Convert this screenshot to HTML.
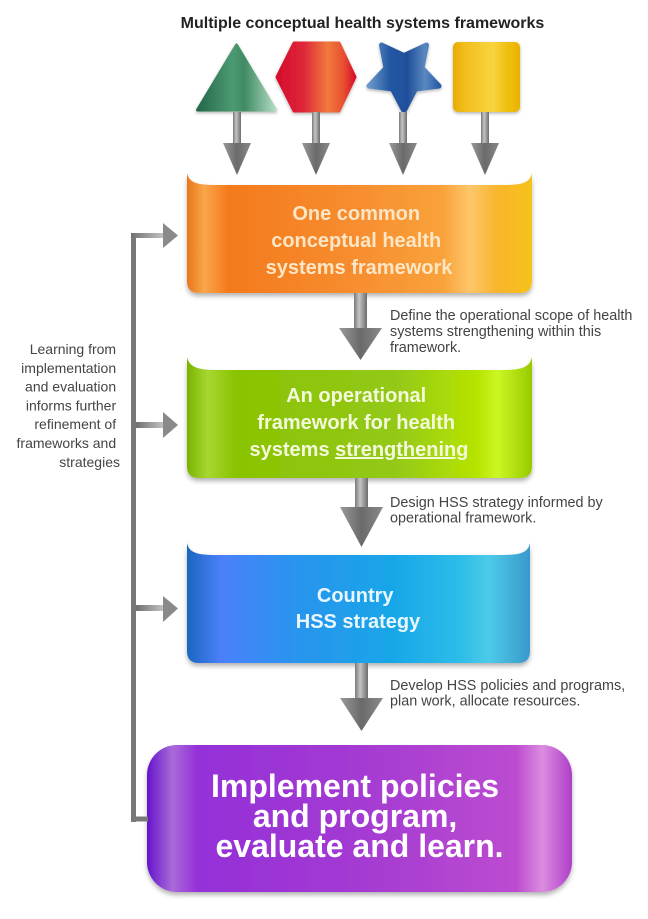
<!DOCTYPE html>
<html><head><meta charset="utf-8"><style>
html,body{margin:0;padding:0;background:#fff;}
svg{display:block;}
text{font-family:"Liberation Sans",sans-serif;}
</style></head><body>
<svg width="648" height="919" viewBox="0 0 648 919" xmlns="http://www.w3.org/2000/svg">
<defs>
<filter id="sh" x="-10%" y="-10%" width="120%" height="130%"><feDropShadow dx="0" dy="3" stdDeviation="2.5" flood-color="#000" flood-opacity="0.3"/></filter>
<filter id="sh2" x="-20%" y="-20%" width="140%" height="140%"><feDropShadow dx="0" dy="1.5" stdDeviation="1.5" flood-color="#000" flood-opacity="0.3"/></filter>
<linearGradient id="gOr" x1="0" x2="1" y1="0" y2="0">
<stop offset="0" stop-color="#e9761a"/><stop offset="0.05" stop-color="#f9a64a"/><stop offset="0.12" stop-color="#f47a1c"/>
<stop offset="0.5" stop-color="#f78e30"/><stop offset="0.74" stop-color="#f9a23a"/><stop offset="0.82" stop-color="#fdc66a"/>
<stop offset="0.9" stop-color="#f9b52c"/><stop offset="1" stop-color="#f6c21a"/></linearGradient>
<linearGradient id="gGr" x1="0" x2="1" y1="0" y2="0">
<stop offset="0" stop-color="#78b400"/><stop offset="0.06" stop-color="#a8d632"/><stop offset="0.14" stop-color="#8ac300"/>
<stop offset="0.6" stop-color="#93c818"/><stop offset="0.84" stop-color="#b6e400"/><stop offset="0.9" stop-color="#ccf624"/>
<stop offset="1" stop-color="#98ca00"/></linearGradient>
<linearGradient id="gBl" x1="0" x2="1" y1="0" y2="0">
<stop offset="0" stop-color="#1c66c0"/><stop offset="0.1" stop-color="#4a80fa"/><stop offset="0.3" stop-color="#2a93ee"/>
<stop offset="0.6" stop-color="#18a6e8"/><stop offset="0.8" stop-color="#2ebde8"/><stop offset="0.88" stop-color="#4ccbe8"/>
<stop offset="1" stop-color="#3a98cc"/></linearGradient>
<linearGradient id="gPu" x1="0" x2="1" y1="0" y2="0">
<stop offset="0" stop-color="#6414cc"/><stop offset="0.06" stop-color="#a96ad8"/><stop offset="0.12" stop-color="#9430d8"/>
<stop offset="0.5" stop-color="#a43ad2"/><stop offset="0.87" stop-color="#bc4cd0"/><stop offset="0.93" stop-color="#dc8ce0"/>
<stop offset="1" stop-color="#ae3ec8"/></linearGradient>
<linearGradient id="gTri" x1="0" x2="1" y1="0" y2="0">
<stop offset="0" stop-color="#24684a"/><stop offset="0.45" stop-color="#4c9a72"/><stop offset="0.6" stop-color="#3f8a64"/><stop offset="1" stop-color="#b0dcc0"/></linearGradient>
<linearGradient id="gHex" x1="0" x2="1" y1="0" y2="0">
<stop offset="0" stop-color="#d40c2c"/><stop offset="0.35" stop-color="#e0283a"/><stop offset="0.65" stop-color="#f07a3c"/><stop offset="0.85" stop-color="#e85030"/><stop offset="1" stop-color="#d8102c"/></linearGradient>
<linearGradient id="gStar" x1="0" x2="1" y1="0" y2="0">
<stop offset="0" stop-color="#6a96c8"/><stop offset="0.3" stop-color="#2458a4"/><stop offset="0.55" stop-color="#1f4f9a"/><stop offset="0.8" stop-color="#5a88c0"/><stop offset="1" stop-color="#2a5ca8"/></linearGradient>
<linearGradient id="gSq" x1="0" x2="1" y1="0" y2="0">
<stop offset="0" stop-color="#e8ac00"/><stop offset="0.2" stop-color="#f2c020"/><stop offset="0.6" stop-color="#f8d440"/><stop offset="0.8" stop-color="#f0c010"/><stop offset="1" stop-color="#e8b400"/></linearGradient>
<linearGradient id="gShaft" x1="0" x2="1" y1="0" y2="0">
<stop offset="0" stop-color="#7a7a7a"/><stop offset="0.4" stop-color="#c4c4c4"/><stop offset="1" stop-color="#6c6c6c"/></linearGradient>
<linearGradient id="gHead" x1="0" x2="1" y1="0" y2="0">
<stop offset="0" stop-color="#9a9a9a"/><stop offset="0.5" stop-color="#6a6a6a"/><stop offset="1" stop-color="#8a8a8a"/></linearGradient>
<linearGradient id="gHz" x1="0" x2="1" y1="0" y2="0">
<stop offset="0" stop-color="#707070"/><stop offset="1" stop-color="#c4c4c4"/></linearGradient>
</defs>

<!-- Title -->
<text x="362.5" y="28" font-size="16" font-weight="bold" fill="#222" text-anchor="middle">Multiple conceptual health systems frameworks</text>

<!-- Top shapes -->
<g filter="url(#sh2)">
<path d="M236.5,45 L275.5,110 L197.5,110 Z" fill="url(#gTri)" stroke="url(#gTri)" stroke-width="3" stroke-linejoin="round"/>
<path d="M277,77 L294,43 L339,43 L355,77 L339,111 L294,111 Z" fill="url(#gHex)" stroke="url(#gHex)" stroke-width="3" stroke-linejoin="round"/>
<path d="M404,111 L392.5,89 L369,86 L386,68 L381.5,45 L404,55.5 L426.5,45 L422,68 L439,86 L415.5,89 Z" fill="url(#gStar)" stroke="url(#gStar)" stroke-width="5" stroke-linejoin="round"/>
<rect x="453" y="42" width="67" height="70" rx="5" fill="url(#gSq)"/>
</g>

<!-- Small arrows -->
<g>
<rect x="233" y="112" width="8" height="33" fill="url(#gShaft)"/><path d="M223,143 L251,143 L237,175 Z" fill="url(#gHead)"/>
<rect x="312" y="112" width="8" height="33" fill="url(#gShaft)"/><path d="M302,143 L330,143 L316,175 Z" fill="url(#gHead)"/>
<rect x="399" y="112" width="8" height="33" fill="url(#gShaft)"/><path d="M389,143 L417,143 L403,175 Z" fill="url(#gHead)"/>
<rect x="481" y="112" width="8" height="33" fill="url(#gShaft)"/><path d="M471,143 L499,143 L485,175 Z" fill="url(#gHead)"/>
</g>

<!-- Orange banner -->
<path filter="url(#sh)" d="M187,173 C189,183 198,185 216,185 L503,185 C522,185 530,183 532,173 L532,281 Q532,293 520,293 L199,293 Q187,293 187,281 Z" fill="url(#gOr)"/>
<text font-size="20" font-weight="bold" fill="#fde6c6" text-anchor="middle">
<tspan x="359" y="220">One common</tspan>
<tspan x="359" y="247">conceptual health</tspan>
<tspan x="359" y="274">systems framework</tspan>
</text>

<!-- Arrow 1 -->
<rect x="354" y="293" width="13" height="36" fill="url(#gShaft)"/>
<path d="M339,328 L382,328 L360.5,360 Z" fill="url(#gHead)"/>
<text font-size="14.4" fill="#444">
<tspan x="390" y="320">Define the operational scope of health</tspan>
<tspan x="390" y="336">systems strengthening within this</tspan>
<tspan x="390" y="352">framework.</tspan>
</text>

<!-- Green banner -->
<path filter="url(#sh)" d="M187,357 C189,367 198,370 216,370 L503,370 C522,370 530,367 532,357 L532,466 Q532,478 520,478 L199,478 Q187,478 187,466 Z" fill="url(#gGr)"/>
<text font-size="20" font-weight="bold" fill="#f4f9dc" text-anchor="middle">
<tspan x="359" y="402">An operational</tspan>
<tspan x="359" y="429">framework for health</tspan>
<tspan x="359" y="456">systems <tspan text-decoration="underline">strengthening</tspan></tspan>
</text>

<!-- Arrow 2 -->
<rect x="355" y="478" width="13" height="30" fill="url(#gShaft)"/>
<path d="M340,507 L383,507 L361.5,547 Z" fill="url(#gHead)"/>
<text font-size="14.4" fill="#444">
<tspan x="390" y="507">Design HSS strategy informed by</tspan>
<tspan x="390" y="522.5">operational framework.</tspan>
</text>

<!-- Blue banner -->
<path filter="url(#sh)" d="M187,543 C189,553 198,555 216,555 L501,555 C520,555 528,553 530,543 L530,651 Q530,663 518,663 L199,663 Q187,663 187,651 Z" fill="url(#gBl)"/>
<text font-size="20" font-weight="bold" fill="#eaf6ff" text-anchor="middle">
<tspan x="358" y="602">Country</tspan>
<tspan x="358" y="628">HSS strategy</tspan>
</text>

<!-- Arrow 3 -->
<rect x="355" y="663" width="13" height="36" fill="url(#gShaft)"/>
<path d="M340,698 L383,698 L361.5,731 Z" fill="url(#gHead)"/>
<text font-size="14.4" fill="#444">
<tspan x="390" y="690">Develop HSS policies and programs,</tspan>
<tspan x="390" y="705.5">plan work, allocate resources.</tspan>
</text>

<!-- Purple box -->
<rect filter="url(#sh)" x="147" y="745" width="425" height="147" rx="30" fill="url(#gPu)"/>
<text font-size="32" font-weight="bold" fill="#ffffff" text-anchor="middle">
<tspan x="359.5" y="797">Implement policies</tspan>
<tspan x="359.5" y="827">and program,</tspan>
<tspan x="359.5" y="857">evaluate and learn.</tspan>
</text>

<!-- Left feedback connector -->
<rect x="131" y="233" width="5" height="589" fill="#787878"/>
<rect x="131" y="816.5" width="17" height="5" fill="#787878"/>
<rect x="131" y="233" width="33" height="5" fill="url(#gHz)"/>
<path d="M163,223 L178,235.5 L163,248 Z" fill="#8a8a8a"/>
<rect x="136" y="422" width="28" height="6" fill="url(#gHz)"/>
<path d="M163,412 L178,425 L163,438 Z" fill="#8a8a8a"/>
<rect x="136" y="605" width="28" height="6" fill="url(#gHz)"/>
<path d="M163,596 L178,608.5 L163,622 Z" fill="#8a8a8a"/>

<text font-size="14" fill="#444" text-anchor="end">
<tspan x="120" y="354">Learning from</tspan>
<tspan x="120" y="372.8">implementation</tspan>
<tspan x="120" y="391.6">and evaluation</tspan>
<tspan x="120" y="410.4">informs further</tspan>
<tspan x="120" y="429.2">refinement of</tspan>
<tspan x="120" y="448">frameworks and</tspan>
<tspan x="120" y="466.8">strategies</tspan>
</text>
</svg>
</body></html>
